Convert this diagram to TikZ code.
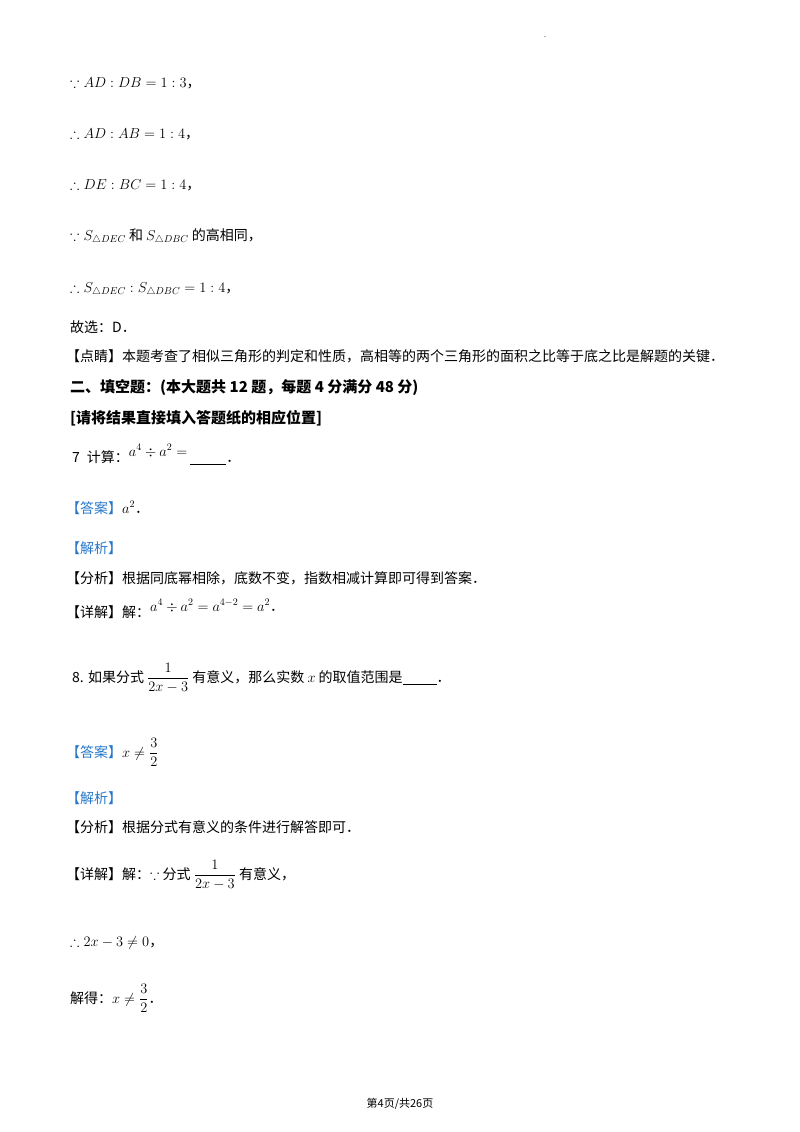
\documentclass[tikz,border=0pt]{standalone}
\usepackage{amsmath,amssymb}
\usepackage{fontspec}
\setmainfont{Liberation Serif}
\newfontfamily\cjk{Noto Sans CJK SC}
\definecolor{tagblue}{RGB}{40,120,200}
\tikzset{
  line/.style={anchor=base west,inner sep=0pt,font=\fontsize{14}{16}\selectfont\cjk},
  bold line/.style={line,font=\fontsize{15}{17}\selectfont\cjk\bfseries},
  tag/.style={text=tagblue}
}
\begin{document}
\begin{tikzpicture}[x=1pt,y=-1pt]
\useasboundingbox (0,0) rectangle (800,1132);
\node (dot) at (545,37) [inner sep=0pt,font=\fontsize{8}{8}\selectfont]{.};

\node (l1) at (70,88) [line]{$\because AD:DB=1:3$，};
\node (l2) at (70,138) [line]{$\therefore AD:AB=1:4$，};
\node (l3) at (70,189) [line]{$\therefore DE:BC=1:4$，};
\node (l4) at (70,240) [line]{$\because S_{\triangle DEC}$ 和 $S_{\triangle DBC}$ 的高相同，};
\node (l5) at (70,292) [line]{$\therefore S_{\triangle DEC}:S_{\triangle DBC}=1:4$，};
\node (l6) at (70,332) [line]{故选：D．};
\node (l7) at (66,361) [line]{【点睛】本题考查了相似三角形的判定和性质，高相等的两个三角形的面积之比等于底之比是解题的关键．};
\node (h1) at (70,392) [bold line]{二、填空题：(本大题共 12 题，每题 4 分满分 48 分)};
\node (h2) at (70,423) [bold line]{[请将结果直接填入答题纸的相应位置]};

\node (q7) at (72,462) [line]{7\enspace 计算：\raisebox{6pt}{$a^4\div a^2=$}\ \underline{\hspace{36pt}}．};
\node (a7) at (66,513) [line]{\textcolor{tagblue}{【答案】}$a^2$．};
\node (j7) at (66,553) [line]{\textcolor{tagblue}{【解析】}};
\node (f7) at (66,583) [line]{【分析】根据同底幂相除，底数不变，指数相减计算即可得到答案．};
\node (d7) at (66,617) [line]{【详解】解：\raisebox{6pt}{$a^4\div a^2=a^{4-2}=a^2$．}};

\node (q8) at (72,682) [line]{8. 如果分式 $\dfrac{1}{2x-3}$ 有意义，那么实数 $x$ 的取值范围是\underline{\hspace{34pt}}．};
\node (a8) at (66,757) [line]{\textcolor{tagblue}{【答案】}$x\neq\dfrac{3}{2}$};
\node (j8) at (66,803) [line]{\textcolor{tagblue}{【解析】}};
\node (f8) at (66,832) [line]{【分析】根据分式有意义的条件进行解答即可．};
\node (d8) at (66,879) [line]{【详解】解：$\because$ 分式 $\dfrac{1}{2x-3}$ 有意义，};
\node (s8) at (70,946) [line]{$\therefore 2x-3\neq 0$，};
\node (r8) at (70,1003) [line]{解得：$x\neq\dfrac{3}{2}$．};

\node (foot) at (400,1107) [anchor=base,inner sep=0pt,font=\fontsize{11}{13}\selectfont\cjk]{第4页/共26页};
\end{tikzpicture}
\end{document}
